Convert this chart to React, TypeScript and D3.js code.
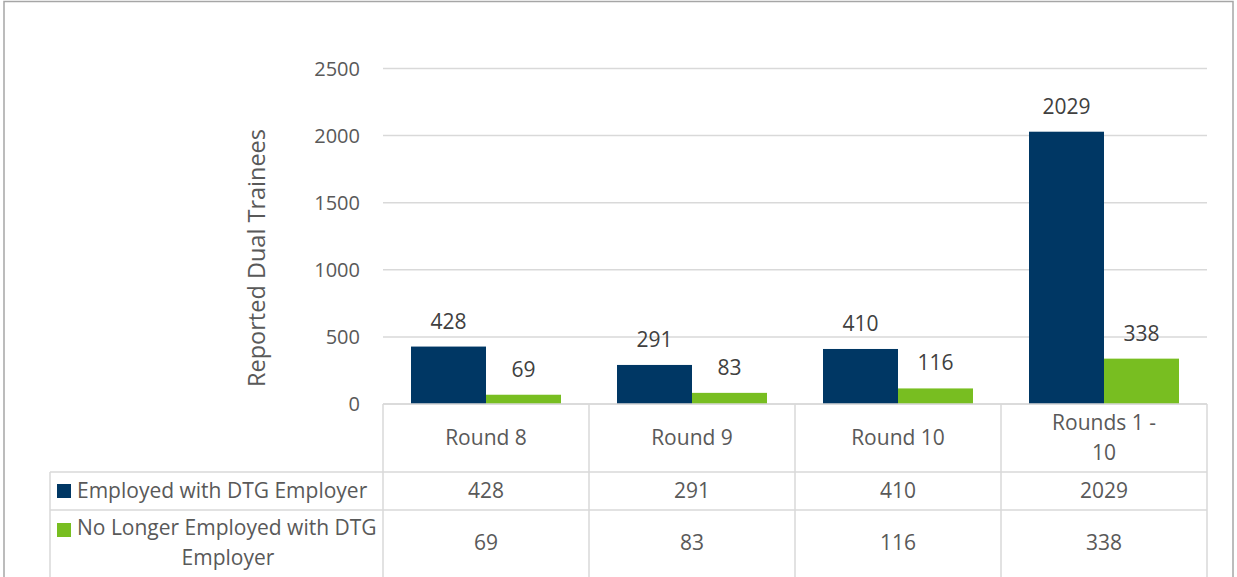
import * as d3 from 'd3';

const categories = ['Round 8', 'Round 9', 'Round 10', 'Rounds 1 - 10'];
const categoryLines = [['Round 8'], ['Round 9'], ['Round 10'], ['Rounds 1 -', '10']];
const seriesNames = ['Employed with DTG Employer', 'No Longer Employed with DTG Employer'];
const employed = [428, 291, 410, 2029];
const noLonger = [69, 83, 116, 338];
const yTicks = [0, 500, 1000, 1500, 2000, 2500];
const colors = ['#003764', '#78be21'];

const width = 1237;
const height = 577;
const font = '"Open Sans", sans-serif';
const fs = 21;

export default function App() {
  const x = d3.scaleBand<string>().domain(categories).range([383, 1207]).padding(0);
  const inner = d3
    .scaleBand<string>()
    .domain(seriesNames)
    .range([28, x.bandwidth() - 28])
    .padding(0);
  const y = d3.scaleLinear().domain([0, 2500]).range([404, 68.5]);

  const values = [employed, noLonger];
  const gridColor = '#d9d9d9';
  const tableTop = 404;
  const row1 = 472;
  const row2 = 510;
  const tableBottom = 600;
  const legendLeft = 50;

  return (
    <div style={{ position: 'absolute', left: 0, top: 0 }}>
      <svg width={width} height={height} style={{ display: 'block', fontFamily: font }}>
        <rect x={4} y={1.5} width={1229} height={620} fill="#fff" stroke="#a6a6a6" strokeWidth={1.5} />

        {/* gridlines */}
        {yTicks.map(t => (
          <line key={t} x1={383} x2={1207} y1={y(t)} y2={y(t)} stroke={gridColor} strokeWidth={1.5} />
        ))}
        {yTicks.map(t => (
          <text key={'l' + t} x={360} y={y(t) + 7} textAnchor="end" fontSize={20} fill="#595959">
            {t}
          </text>
        ))}
        <text
          transform="translate(265,258) rotate(-90)"
          textAnchor="middle"
          fontSize={23.5}
          fill="#595959"
        >
          Reported Dual Trainees
        </text>

        {/* bars */}
        {categories.map((c, i) =>
          seriesNames.map((s, j) => {
            const v = values[j][i];
            const bx = (x(c) as number) + (inner(s) as number);
            return (
              <g key={c + s}>
                <rect x={bx} y={y(v)} width={inner.bandwidth()} height={y(0) - y(v)} fill={colors[j]} />
                <text
                  x={bx + inner.bandwidth() / 2}
                  y={y(v) - 18}
                  textAnchor="middle"
                  fontSize={fs}
                  fill="#404040"
                >
                  {v}
                </text>
              </g>
            );
          })
        )}

        {/* data table */}
        <line x1={383} x2={1207} y1={tableTop} y2={tableTop} stroke={gridColor} strokeWidth={1.5} />
        <line x1={legendLeft} x2={1207} y1={row1} y2={row1} stroke={gridColor} strokeWidth={1.5} />
        <line x1={legendLeft} x2={1207} y1={row2} y2={row2} stroke={gridColor} strokeWidth={1.5} />
        <line x1={legendLeft} x2={legendLeft} y1={row1} y2={tableBottom} stroke={gridColor} strokeWidth={1.5} />
        {[...categories.map(c => x(c) as number), 1207].map(xx => (
          <line key={xx} x1={xx} x2={xx} y1={tableTop} y2={tableBottom} stroke={gridColor} strokeWidth={1.5} />
        ))}

        {categories.map((c, i) => {
          const cx = (x(c) as number) + x.bandwidth() / 2;
          const lines = categoryLines[i];
          const startY = 445 - ((lines.length - 1) * 30) / 2;
          return (
            <g key={'t' + c}>
              {lines.map((ln, k) => (
                <text key={k} x={cx} y={startY + k * 30} textAnchor="middle" fontSize={fs} fill="#595959">
                  {ln}
                </text>
              ))}
              <text x={cx} y={498} textAnchor="middle" fontSize={fs} fill="#595959">
                {employed[i]}
              </text>
              <text x={cx} y={550} textAnchor="middle" fontSize={fs} fill="#595959">
                {noLonger[i]}
              </text>
            </g>
          );
        })}

        {/* legend keys */}
        <rect x={57} y={484} width={14} height={14} fill={colors[0]} />
        <text x={77} y={498} fontSize={fs} fill="#595959">
          {seriesNames[0]}
        </text>
        <rect x={57} y={523} width={14} height={14} fill={colors[1]} />
        <text x={77} y={535} fontSize={fs} fill="#595959">
          No Longer Employed with DTG
        </text>
        <text x={228} y={565} textAnchor="middle" fontSize={fs} fill="#595959">
          Employer
        </text>
      </svg>
    </div>
  );
}
